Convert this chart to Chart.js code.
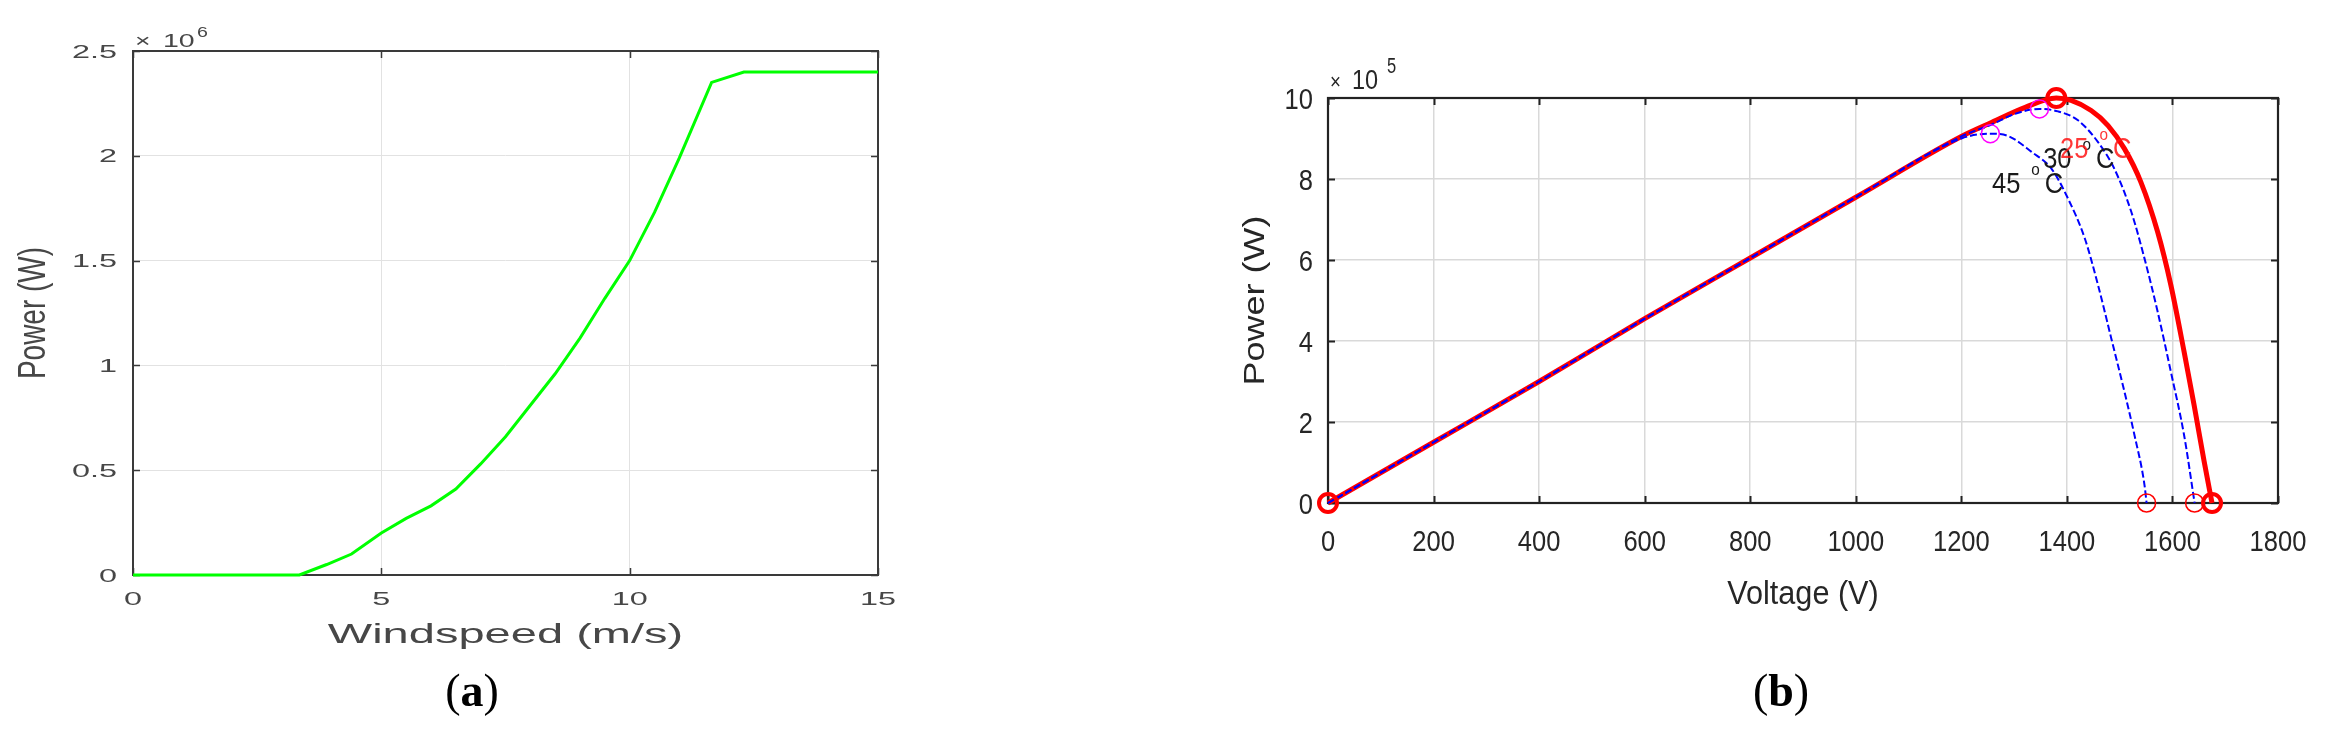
<!DOCTYPE html>
<html>
<head>
<meta charset="utf-8">
<script src="https://cdn.jsdelivr.net/npm/chart.js@4"></script>
<style>
  html, body { margin: 0; padding: 0; background: #fff; }
  #wrap { position: relative; width: 2330px; height: 739px; overflow: hidden; }
  canvas { position: absolute; top: 0; }
  #cvA { left: 0; }
  #cvB { left: 1100px; }
  .cap {
    position: absolute; font-family: "Liberation Serif", "Times New Roman", serif;
    font-size: 46px; line-height: 1; color: #000; transform: translateX(-50%); white-space: nowrap;
  }
</style>
</head>
<body>
<div id="wrap">
  <canvas id="cvA" width="1100" height="739"></canvas>
  <canvas id="cvB" width="1230" height="739"></canvas>
  <div class="cap" style="left:472px; top:668px;">(<b>a</b>)</div>
  <div class="cap" style="left:1781px; top:668px;">(<b>b</b>)</div>
</div>
<script>
// ---- (a) wind turbine power curve, power in x10^6 W ----
const windSpeed = [0, 3.35, 3.9, 4.4, 5.0, 5.5, 6.0, 6.5, 7.0, 7.5, 8.0, 8.5, 9.0, 9.5, 10.0, 10.5, 11.0, 11.65, 12.3, 15];
const windPower = [0, 0, 0.05, 0.10, 0.20, 0.27, 0.33, 0.41, 0.53, 0.66, 0.81, 0.96, 1.13, 1.32, 1.50, 1.73, 1.99, 2.35, 2.40, 2.40];
const windXTicks = [0, 5, 10, 15];
const windYTicks = [0, 0.5, 1, 1.5, 2, 2.5];

// ---- (b) PV array P-V curves, power in x10^5 W ----
const voltage25 = [0, 200, 400, 600, 800, 1000, 1200, 1258, 1321, 1380, 1408, 1446, 1478, 1509, 1540, 1572, 1597, 1622, 1641, 1660, 1675];
const power25   = [0, 1.5, 3.0, 4.55, 6.05, 7.55, 9.05, 9.4, 9.77, 10.0, 9.94, 9.69, 9.32, 8.75, 7.93, 6.69, 5.38, 3.74, 2.42, 1.03, 0];
const voltage30 = [0, 200, 400, 600, 800, 1000, 1200, 1258, 1300, 1348, 1383, 1421, 1459, 1490, 1522, 1547, 1572, 1597, 1622, 1642];
const power30   = [0, 1.5, 3.0, 4.55, 6.05, 7.55, 9.05, 9.35, 9.6, 9.73, 9.67, 9.45, 8.91, 8.25, 7.19, 6.04, 4.72, 3.24, 1.68, 0];
const voltage45 = [0, 200, 400, 600, 800, 1000, 1200, 1255, 1289, 1333, 1371, 1402, 1434, 1459, 1484, 1509, 1528, 1547, 1551];
const power45   = [0, 1.5, 3.0, 4.55, 6.05, 7.55, 9.0, 9.12, 9.06, 8.67, 8.25, 7.52, 6.53, 5.38, 4.07, 2.75, 1.68, 0.45, 0];

// marked points: max power (magenta), 25 C markers (red thick), open circuit (red thin)
const mppV = [1255, 1348];
const mppP = [9.12, 9.73];
const mark25V = [0, 1380, 1675];
const mark25P = [0, 10.0, 0];
const vocV = [1551, 1642];
const vocP = [0, 0];

const pvXTicks = [0, 200, 400, 600, 800, 1000, 1200, 1400, 1600, 1800];
const pvYTicks = [0, 2, 4, 6, 8, 10];

// temperature labels, anchored in data space
const tempLabels = ['45', '30', '25'];
const tempLabelV = [1258, 1355, 1387];
const tempLabelP = [7.65, 8.27, 8.52];

const SANS = '"Liberation Sans", Arial, sans-serif';

function pts(xs, ys) {
  return xs.map((v, i) => ({ x: v, y: ys[i] }));
}

// text squeezed/stretched horizontally like the raster original
function sText(ctx, text, x, y, size, sx, align, color) {
  ctx.save();
  ctx.font = size + 'px ' + SANS;
  ctx.fillStyle = color;
  ctx.textBaseline = 'alphabetic';
  ctx.textAlign = 'left';
  const w = ctx.measureText(text).width * sx;
  let x0 = x;
  if (align === 'center') x0 = x - w / 2;
  else if (align === 'right') x0 = x - w;
  ctx.translate(x0, y);
  ctx.scale(sx, 1);
  ctx.fillText(text, 0, 0);
  ctx.restore();
  return w;
}

function rotText(ctx, text, cx, cy, size, sLen, sHgt, color) {
  ctx.save();
  ctx.font = size + 'px ' + SANS;
  ctx.fillStyle = color;
  ctx.textAlign = 'center';
  ctx.textBaseline = 'middle';
  ctx.translate(cx, cy);
  ctx.rotate(-Math.PI / 2);
  ctx.scale(sLen, sHgt);
  ctx.fillText(text, 0, 0);
  ctx.restore();
}

function boxPlugin(cfg) {
  return {
    id: 'matlabBox',
    beforeDatasetsDraw(chart) {
      const { ctx, chartArea: a, scales: { x, y } } = chart;
      ctx.save();
      ctx.strokeStyle = cfg.boxColor;
      ctx.lineWidth = cfg.boxWidth;
      ctx.strokeRect(a.left, a.top, a.right - a.left, a.bottom - a.top);
      ctx.beginPath();
      cfg.xTicks.forEach(v => {
        const px = Math.round(x.getPixelForValue(v)) + 0.5;
        ctx.moveTo(px, a.bottom); ctx.lineTo(px, a.bottom - cfg.tickLen);
        ctx.moveTo(px, a.top); ctx.lineTo(px, a.top + cfg.tickLen);
      });
      cfg.yTicks.forEach(v => {
        const py = Math.round(y.getPixelForValue(v)) + 0.5;
        ctx.moveTo(a.left, py); ctx.lineTo(a.left + cfg.tickLen, py);
        ctx.moveTo(a.right, py); ctx.lineTo(a.right - cfg.tickLen, py);
      });
      ctx.lineWidth = cfg.tickWidth;
      ctx.stroke();
      ctx.restore();
    },
    afterDraw(chart) {
      cfg.draw(chart);
    }
  };
}

function baseOptions(pad, xr, yr, gridColor, gridWidth) {
  return {
    responsive: false,
    animation: false,
    devicePixelRatio: 1,
    layout: { padding: pad },
    plugins: { legend: { display: false }, tooltip: { enabled: false } },
    elements: { point: { radius: 0 } },
    scales: {
      x: {
        type: 'linear', min: xr[0], max: xr[1],
        ticks: { display: false, stepSize: xr[2] },
        grid: { color: gridColor, lineWidth: gridWidth, drawTicks: false },
        border: { display: false },
        afterFit: s => { s.height = 0; }
      },
      y: {
        type: 'linear', min: yr[0], max: yr[1],
        ticks: { display: false, stepSize: yr[2] },
        grid: { color: gridColor, lineWidth: gridWidth, drawTicks: false },
        border: { display: false },
        afterFit: s => { s.width = 0; }
      }
    }
  };
}

// ---------- chart (a) ----------
const colA = '#474747';
new Chart(document.getElementById('cvA'), {
  type: 'scatter',
  data: {
    datasets: [{
      data: pts(windSpeed, windPower),
      showLine: true,
      borderColor: '#00ff00',
      borderWidth: 3,
      pointRadius: 0,
      clip: false
    }]
  },
  options: baseOptions({ left: 133, top: 51, right: 222, bottom: 164 }, [0, 15, 5], [0, 2.5, 0.5], '#e2e2e2', 1),
  plugins: [boxPlugin({
    boxColor: '#3a3a3a', boxWidth: 2, tickWidth: 1.5, tickLen: 7,
    xTicks: windXTicks, yTicks: windYTicks,
    draw(chart) {
      const { ctx, chartArea: a, scales: { x, y } } = chart;
      windYTicks.forEach(v => {
        sText(ctx, String(v), a.left - 16, y.getPixelForValue(v) + 6.5, 18, 1.8, 'right', colA);
      });
      windXTicks.forEach(v => {
        sText(ctx, String(v), x.getPixelForValue(v), a.bottom + 30, 18, 1.8, 'center', colA);
      });
      sText(ctx, 'Windspeed (m/s)', (a.left + a.right) / 2, a.bottom + 68, 28, 1.68, 'center', colA);
      rotText(ctx, 'Power (W)', a.left - 99, (a.top + a.bottom) / 2, 28, 1.0, 1.4, colA);
      sText(ctx, '\u00d7', a.left + 2, a.top - 4, 19, 1.4, 'left', colA);
      sText(ctx, '10', a.left + 30, a.top - 4, 19, 1.5, 'left', colA);
      sText(ctx, '6', a.left + 64, a.top - 14, 14, 1.4, 'left', colA);
    }
  })]
});

// ---------- chart (b) ----------
const colB = '#262626';
new Chart(document.getElementById('cvB'), {
  type: 'scatter',
  data: {
    datasets: [
      { data: pts(mark25V, mark25P), pointStyle: 'circle', pointRadius: 9, pointBorderWidth: 4,
        pointBorderColor: '#ff0000', pointBackgroundColor: 'rgba(0,0,0,0)', clip: false },
      { data: pts(mppV, mppP), pointStyle: 'circle', pointRadius: 9, pointBorderWidth: 1.5,
        pointBorderColor: '#ff00ff', pointBackgroundColor: 'rgba(0,0,0,0)', clip: false },
      { data: pts(vocV, vocP), pointStyle: 'circle', pointRadius: 9, pointBorderWidth: 1.5,
        pointBorderColor: '#ff0000', pointBackgroundColor: 'rgba(0,0,0,0)', clip: false },
      { data: pts(voltage45, power45), showLine: true, borderColor: '#0000ff', borderWidth: 2,
        borderDash: [7, 3], pointRadius: 0, cubicInterpolationMode: 'monotone', clip: false },
      { data: pts(voltage30, power30), showLine: true, borderColor: '#0000ff', borderWidth: 2,
        borderDash: [7, 3], pointRadius: 0, cubicInterpolationMode: 'monotone', clip: false },
      { data: pts(voltage25, power25), showLine: true, borderColor: '#ff0000', borderWidth: 5,
        pointRadius: 0, cubicInterpolationMode: 'monotone', clip: false }
    ]
  },
  options: baseOptions({ left: 228, top: 98, right: 52, bottom: 236 }, [0, 1800, 200], [0, 10, 2], '#d9d9d9', 1.5),
  plugins: [boxPlugin({
    boxColor: '#222', boxWidth: 2.2, tickWidth: 2, tickLen: 7,
    xTicks: pvXTicks, yTicks: pvYTicks,
    draw(chart) {
      const { ctx, chartArea: a, scales: { x, y } } = chart;
      pvYTicks.forEach(v => {
        sText(ctx, String(v), a.left - 15, y.getPixelForValue(v) + 10.5, 29, 0.88, 'right', colB);
      });
      pvXTicks.forEach(v => {
        sText(ctx, String(v), x.getPixelForValue(v), a.bottom + 47.5, 29, 0.88, 'center', colB);
      });
      sText(ctx, 'Voltage (V)', (a.left + a.right) / 2, a.bottom + 101, 34, 0.9, 'center', colB);
      rotText(ctx, 'Power (W)', a.left - 72, (a.top + a.bottom) / 2, 30, 1.2, 1.0, colB);
      sText(ctx, '\u00d7', a.left + 2, a.top - 9, 22, 0.85, 'left', colB);
      sText(ctx, '10', a.left + 24, a.top - 9, 27, 0.87, 'left', colB);
      sText(ctx, '5', a.left + 59, a.top - 25, 22, 0.75, 'left', colB);
      tempLabels.forEach((t, i) => {
        const col = i === 2 ? 'rgba(255,20,20,0.85)' : '#1a1a1a';
        let px = x.getPixelForValue(tempLabelV[i]);
        const py = y.getPixelForValue(tempLabelP[i]);
        px += sText(ctx, t, px, py, 30, 0.85, 'left', col) + 11;
        px += sText(ctx, 'o', px, py - 18, 17, 0.9, 'left', col) + 5;
        sText(ctx, 'C', px, py, 30, 0.85, 'left', col);
      });
    }
  })]
});
</script>
</body>
</html>
